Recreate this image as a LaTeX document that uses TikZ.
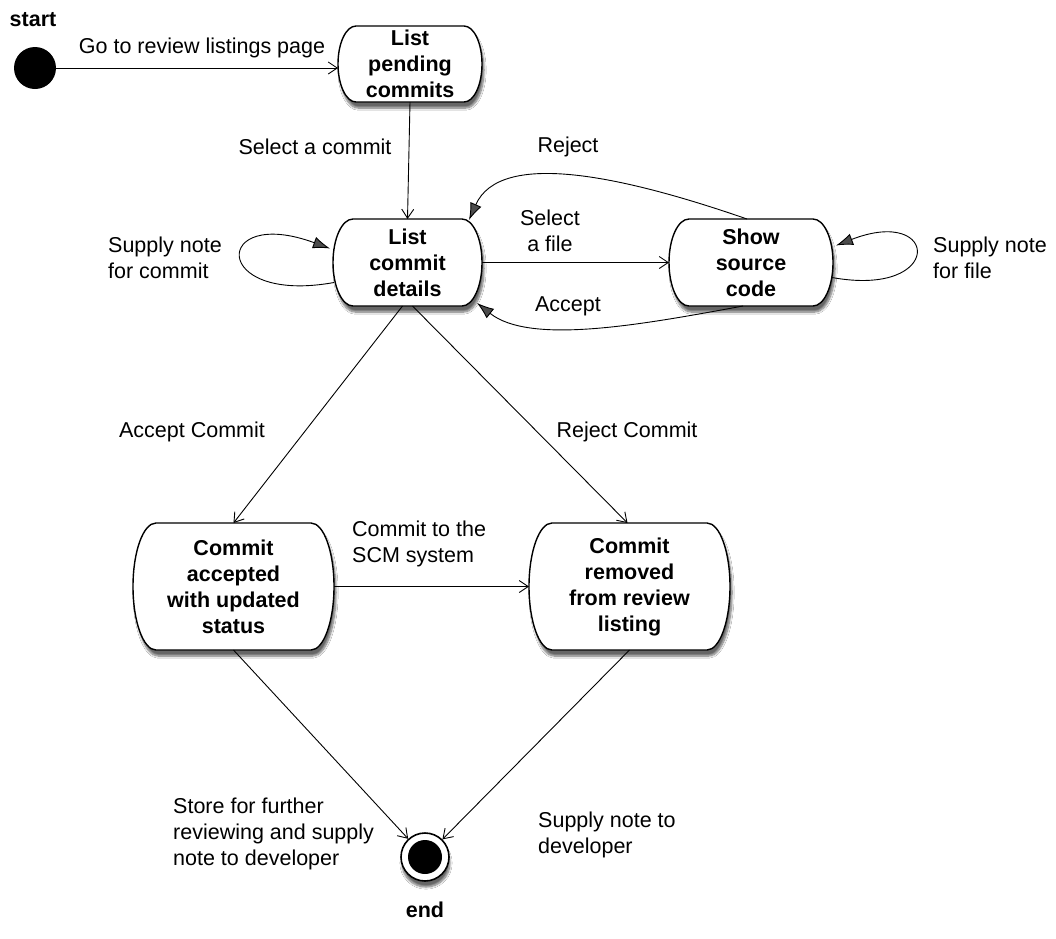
\documentclass[tikz,border=0pt]{standalone}
\usepackage{fontspec}
\setmainfont{Liberation Sans}
\usetikzlibrary{shadows.blur,arrows.meta}
% #1 name, #2 x, #3 y, #4 width, #5 height, #6 side bulge, #7 text
\newcommand\stnode[7]{%
  \path[stfill] (#2-0.5*#4+#6, #3-0.5*#5) -- ++(#4-2*#6,0)
     arc[start angle=90,end angle=-90,x radius=#6pt,y radius={0.5*#5pt}]
     -- ++(-#4+2*#6,0)
     arc[start angle=-90,end angle=-270,x radius=#6pt,y radius={0.5*#5pt}] -- cycle;
  \node[state, minimum width=#4pt, minimum height=#5pt] (#1) at (#2,#3) {#7};}
\begin{document}
\begin{tikzpicture}[x=1pt,y=-1pt,
  txt/.style={font=\fontsize{21.5}{26}\selectfont, inner sep=0pt},
  lbl/.style={txt, align=left},
  state/.style={rectangle, align=center, inner sep=0pt, outer sep=0pt,
     font=\fontsize{21.5}{26}\selectfont\bfseries},
  stfill/.style={draw, line width=1.4pt, fill=white,
     blur shadow={shadow xshift=2pt, shadow yshift=-6pt, shadow blur steps=8, shadow opacity=60}},
  open/.style={line width=0.9pt, -{Straight Barb[length=9pt,width=12pt,line width=0.9pt]}},
  filled/.style={line width=0.9pt, -{Latex[length=17pt,width=12pt]}}
]
\fill[white] (0,0) rectangle (1056,938);
\useasboundingbox (0,0) rectangle (1056,938);

% nodes
\node[circle, fill=black, minimum size=42pt, inner sep=0pt] (start) at (35,68) {};
\node[txt, font=\fontsize{21.5}{26}\selectfont\bfseries] (startl) at (33,20) {start};

\stnode{lpc}{410}{64}{144}{76}{18}{List\\pending\\commits}
\stnode{lcd}{407.5}{262.5}{149}{87}{20}{List\\commit\\details}
\stnode{ssc}{751}{262.5}{164}{87}{20}{Show\\source\\code}
\stnode{ca}{233.5}{586.5}{201}{127}{23}{Commit\\accepted\\with updated\\status}
\stnode{cr}{629.5}{586.5}{201}{127}{23}{Commit\\removed\\from review\\listing}

\node[circle, draw, line width=1.6pt, fill=white, minimum size=48pt, inner sep=0pt,
     blur shadow={shadow xshift=1pt, shadow yshift=-6pt, shadow blur steps=8, shadow opacity=60}] (endn) at (425,857) {};
\node[circle, fill=black, minimum size=34pt, inner sep=0pt] (endc) at (endn.center) {};
\node[txt, font=\fontsize{21.5}{26}\selectfont\bfseries] (endl) at (425,910) {end};

% labels
\node[txt] (l1) at (202,48) {Go to review listings page};
\node[txt] (l2) at (315,147) {Select a commit};
\node[txt] (l3) at (568,147) {Reject};
\node[txt, align=center] (l4) at (550,231) {Select\\a file};
\node[txt] (l5) at (568,306) {Accept};
\node[lbl, anchor=west] (l6) at (108,258) {Supply note\\for commit};
\node[lbl, anchor=west] (l7) at (933,258) {Supply note\\for file};
\node[txt] (l8) at (192,432) {Accept Commit};
\node[txt] (l9) at (627,432) {Reject Commit};
\node[lbl, anchor=west] (l10) at (352,544) {Commit to the\\SCM system};
\node[lbl, anchor=west] (l11) at (173,834) {Store for further\\reviewing and supply\\note to developer};
\node[lbl, anchor=west] (l12) at (538,835) {Supply note to\\developer};

% connectors
\draw[open] (start) -- (start -| lpc.west);
\draw[open] (lpc.south) -- (lcd.north);
\draw[open] (lcd.east) -- (ssc.west);
\draw[filled] ([xshift=-4pt]ssc.north) .. controls (620,175) and (500,150) .. ([xshift=-13pt,yshift=-1pt]lcd.north east);
\draw[filled] ([xshift=-8pt]ssc.south) .. controls (640,325) and (530,345) .. ([xshift=-5pt,yshift=3pt]lcd.south east);
\draw[filled] ([yshift=-20pt,xshift=1pt]lcd.west) .. controls (210,305) and (212,205) .. ([yshift=14pt,xshift=-3pt]lcd.west);
\draw[filled] ([yshift=-15pt,xshift=-1pt]ssc.east) .. controls (945,298) and (940,205) .. ([yshift=17pt,xshift=3pt]ssc.east);
\draw[open] ([xshift=-5pt]lcd.south) -- (ca.north);
\draw[open] ([xshift=5pt]lcd.south) -- ([xshift=-2pt]cr.north);
\draw[open] (ca.east) -- (cr.west);
\draw[open] (ca.south) -- (endn);
\draw[open] (cr.south) -- (endn);
\end{tikzpicture}
\end{document}
